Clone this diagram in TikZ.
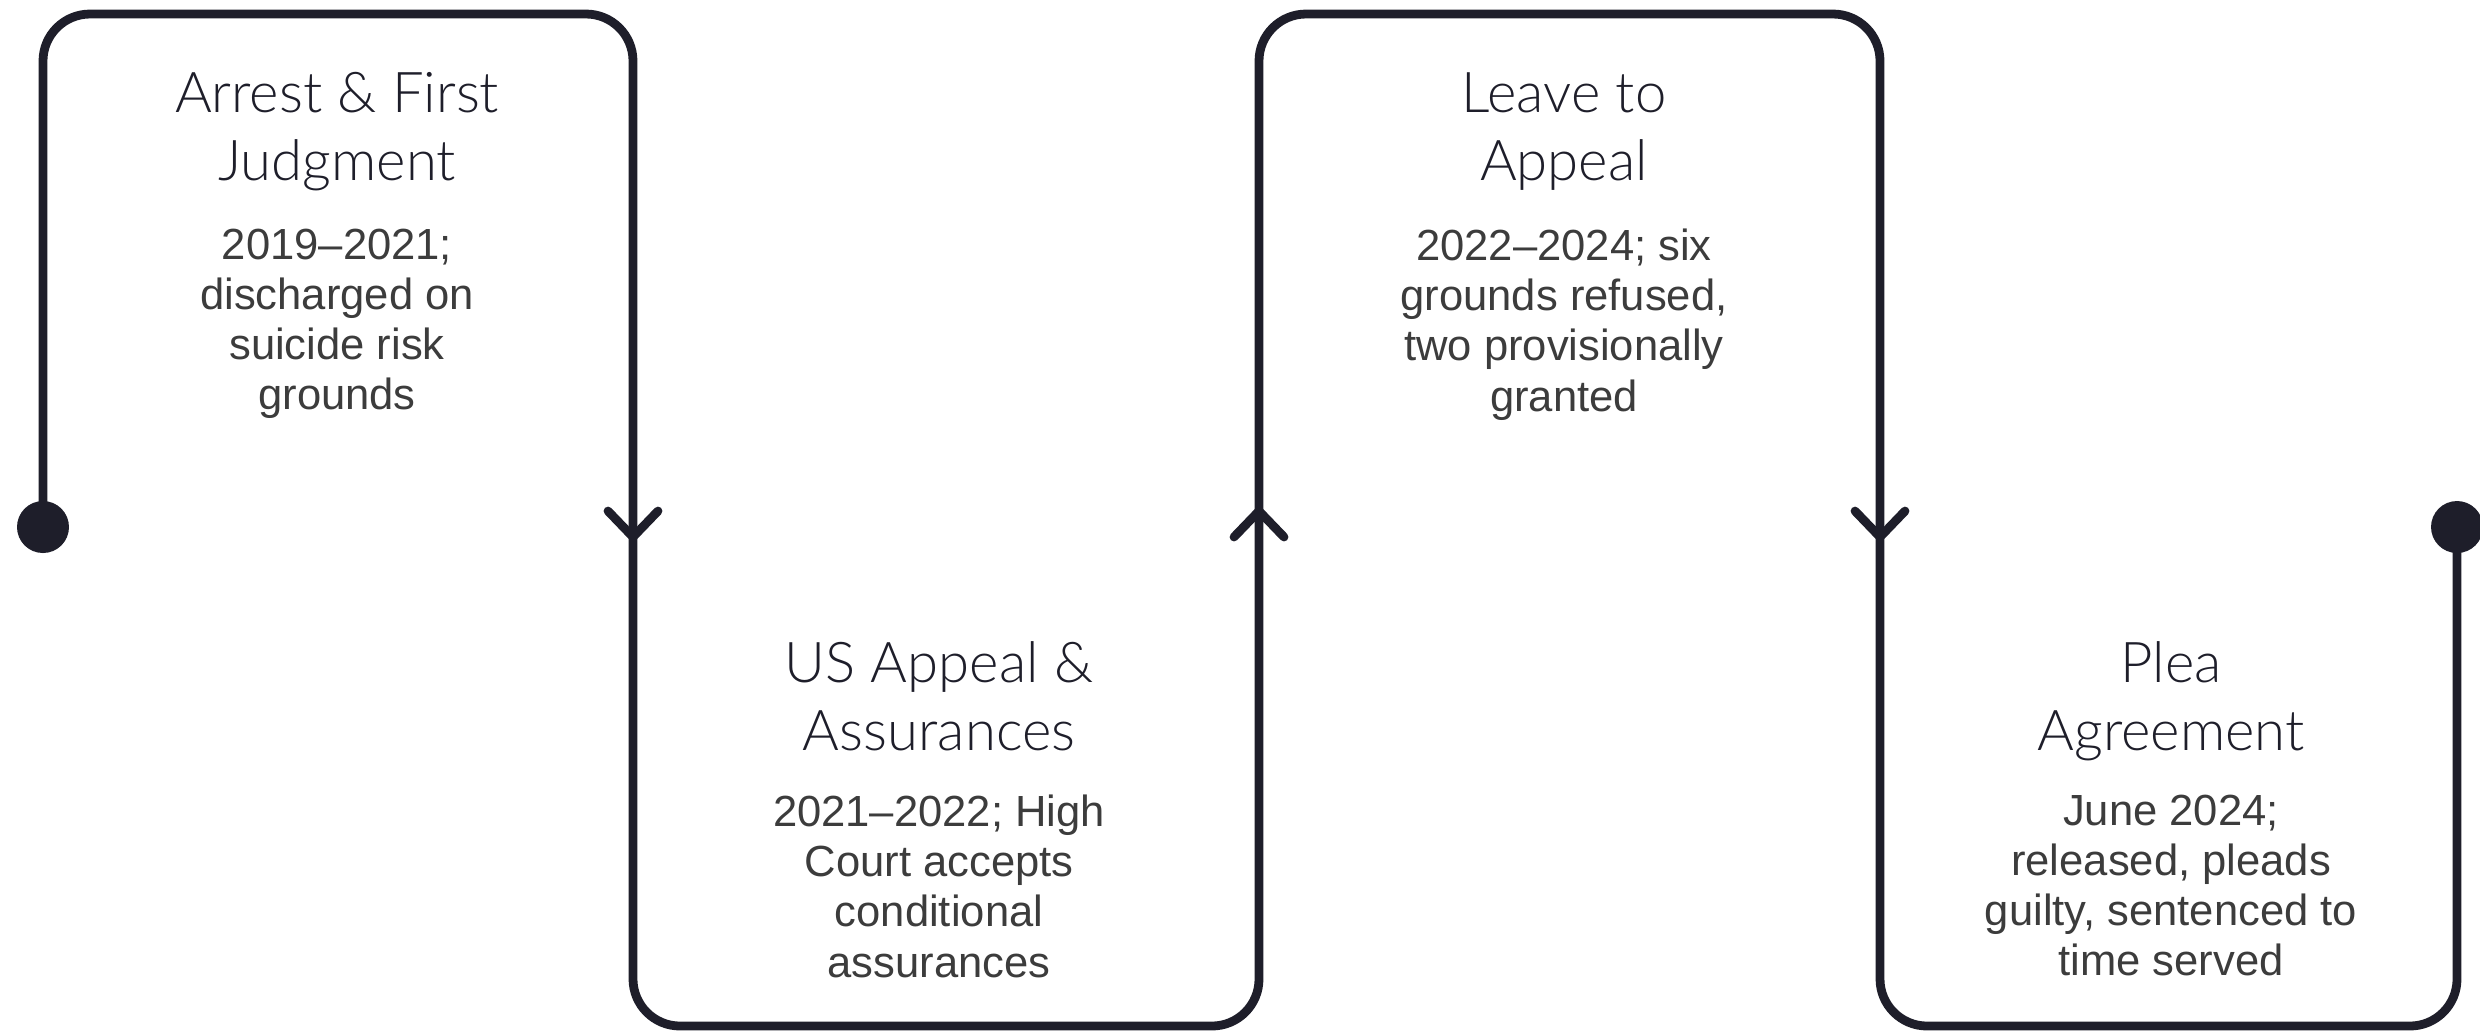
\documentclass[tikz,border=0pt]{standalone}
\usepackage{fontspec}
\setmainfont{Liberation Sans}
\newfontfamily\titlefont{Lato Light}

\begin{document}
\begin{tikzpicture}[x=1cm,y=-1cm]
  % Colors
  \definecolor{pathcol}{HTML}{1E1E2A}
  \definecolor{textcol}{HTML}{3C3C3C}
  %
  \tikzset{
    steptitle/.style={inner sep=0pt, anchor=north, align=center, text=pathcol,
                      font=\titlefont\fontsize{16}{19.3}\selectfont},
    stepdesc/.style={inner sep=0pt, anchor=north, align=center, text=textcol,
                     font=\fontsize{12.4}{14.3}\selectfont},
    track/.style={draw=pathcol, line width=2.5pt, rounded corners=0.47cm},
    barb/.style={draw=pathcol, line width=2.5pt, line cap=round, line join=round},
  }
  \useasboundingbox (0,0) rectangle (24.8,10.32);
  %
  %%% TRACK %%%
  \coordinate (start) at (0.43,5.27);
  \coordinate (stop) at (24.57,5.27);
  \draw[track] (start) -- (0.43,0.14) -- (6.33,0.14) -- (6.33,10.26)
    -- (12.59,10.26) -- (12.59,0.14) -- (18.80,0.14) -- (18.80,10.26)
    -- (24.57,10.26) -- (stop);
  \fill[pathcol] (start) circle (0.26);
  \fill[pathcol] (stop) circle (0.26);
  %
  % Direction marks (1 = down, -1 = up)
  \foreach \x/\d in {6.33/1, 12.59/-1, 18.80/1} {
    \draw[barb] ({\x-0.25}, {5.24-0.13*\d}) -- (\x, {5.24+0.13*\d})
      -- ({\x+0.25}, {5.24-0.13*\d});
  }
  %
  %%% STEPS %%%
  % upper row
  \node[steptitle] (t1) at (3.37, 0.72) {Arrest \& First\\Judgment};
  \node[stepdesc] (d1) at (3.37, 2.28) {2019--2021;\\discharged on\\suicide risk\\grounds};
  \node[steptitle] (t3) at (15.64, 0.72) {Leave to\\Appeal};
  \node[stepdesc] (d3) at (15.64, 2.28) {2022--2024; six\\grounds refused,\\two provisionally\\granted};
  % lower row
  \node[steptitle] (t2) at (9.39, 6.41) {US Appeal \&\\Assurances};
  \node[stepdesc] (d2) at (9.39, 7.94) {2021--2022; High\\Court accepts\\conditional\\assurances};
  \node[steptitle] (t4) at (21.71, 6.41) {Plea\\Agreement};
  \node[stepdesc] (d4) at (21.71, 7.94) {June 2024;\\released, pleads\\guilty, sentenced to\\time served};
\end{tikzpicture}
\end{document}
